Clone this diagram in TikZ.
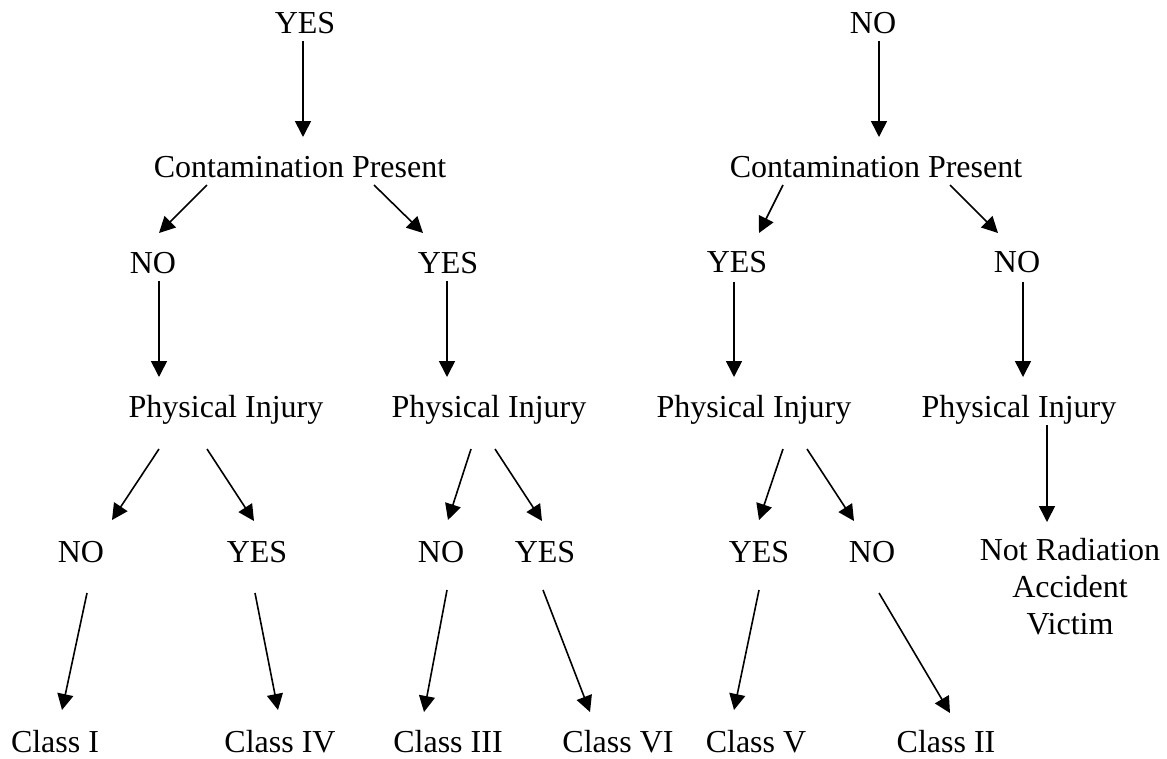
\documentclass[tikz,border=0pt]{standalone}
\usepackage{fontspec}
\setmainfont{Liberation Serif}
\usetikzlibrary{arrows.meta}
\begin{document}
\begin{tikzpicture}[x=1pt,y=-1pt,
  lbl/.style={anchor=base, inner sep=0pt, font=\fontsize{32}{37}\selectfont},
  arr/.style={-{Triangle[length=16pt,width=16pt]}, line width=1.6pt}]
\useasboundingbox (0,0) rectangle (1167,758);
% level 0
\node[lbl] (yes0) at (305,33) {YES};
\node[lbl] (no0) at (873,33) {NO};
% level 1
\node[lbl] (cpL) at (300,177) {Contamination Present};
\node[lbl] (cpR) at (876,177) {Contamination Present};
% level 2
\node[lbl] (noL) at (153,273) {NO};
\node[lbl] (yesL) at (448,273) {YES};
\node[lbl] (yesR) at (737,272) {YES};
\node[lbl] (noR) at (1017,272) {NO};
% level 3
\node[lbl] (pi1) at (226,417) {Physical Injury};
\node[lbl] (pi2) at (489,417) {Physical Injury};
\node[lbl] (pi3) at (754,417) {Physical Injury};
\node[lbl] (pi4) at (1019,417) {Physical Injury};
% level 4
\node[lbl] (noA) at (81,562) {NO};
\node[lbl] (yesA) at (257,562) {YES};
\node[lbl] (noB) at (441,562) {NO};
\node[lbl] (yesB) at (545,562) {YES};
\node[lbl] (yesC) at (759,562) {YES};
\node[lbl] (noC) at (872,562) {NO};
\node[lbl, align=center] (nrv) at (1070,634) {Not Radiation\\Accident\\Victim};
% level 5
\node[lbl] (c1) at (55,752) {Class I};
\node[lbl] (c4) at (280,752) {Class IV};
\node[lbl] (c3) at (448,752) {Class III};
\node[lbl] (c6) at (618,752) {Class VI};
\node[lbl] (c5) at (756,752) {Class V};
\node[lbl] (c2) at (946,752) {Class II};
% connector end points
\coordinate (a1s) at (303,41);   \coordinate (a1e) at (303,137);
\coordinate (a2s) at (879,41);   \coordinate (a2e) at (879,137);
\coordinate (a3s) at (207,185);  \coordinate (a3e) at (159,233);
\coordinate (a4s) at (374,185);  \coordinate (a4e) at (423,233);
\coordinate (a5s) at (783,185);  \coordinate (a5e) at (759,233);
\coordinate (a6s) at (950,185);  \coordinate (a6e) at (998,233);
\coordinate (a7s) at (159,281);  \coordinate (a7e) at (159,377);
\coordinate (a8s) at (447,281);  \coordinate (a8e) at (447,377);
\coordinate (a9s) at (734,282);  \coordinate (a9e) at (734,377);
\coordinate (a10s) at (1023,282); \coordinate (a10e) at (1023,377);
\coordinate (a11s) at (159,449); \coordinate (a11e) at (112,520);
\coordinate (a12s) at (207,449); \coordinate (a12e) at (254,521);
\coordinate (a13s) at (471,449); \coordinate (a13e) at (448,520);
\coordinate (a14s) at (495,449); \coordinate (a14e) at (542,521);
\coordinate (a15s) at (783,449); \coordinate (a15e) at (759,520);
\coordinate (a16s) at (807,449); \coordinate (a16e) at (854,521);
\coordinate (a17s) at (1047,425); \coordinate (a17e) at (1047,522);
\coordinate (a18s) at (87,593);  \coordinate (a18e) at (62,710);
\coordinate (a19s) at (255,593); \coordinate (a19e) at (278,710);
\coordinate (a20s) at (447,590); \coordinate (a20e) at (424,712);
\coordinate (a21s) at (543,590); \coordinate (a21e) at (590,712);
\coordinate (a22s) at (759,590); \coordinate (a22e) at (734,710);
\coordinate (a23s) at (879,593); \coordinate (a23e) at (950,713);
\foreach \i in {1,...,23} {\draw[arr] (a\i s) -- (a\i e);}
\end{tikzpicture}
\end{document}
